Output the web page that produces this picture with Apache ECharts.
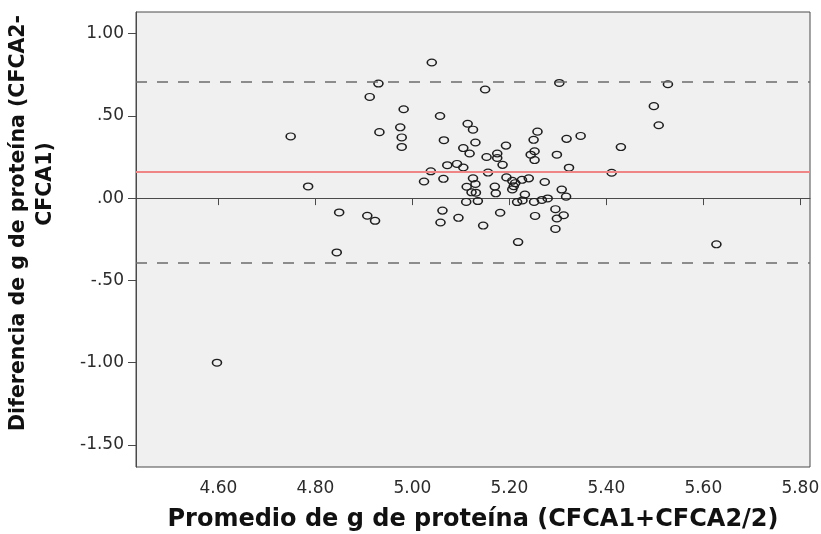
<!DOCTYPE html>
<html>
<head>
<meta charset="utf-8">
<script src="https://cdn.jsdelivr.net/npm/echarts@6/dist/echarts.min.js"></script>
<style>
html,body{margin:0;padding:0;background:#ffffff;}
#chart{width:821px;height:534px;}
</style>
</head>
<body>
<div id="chart"></div>
<script>
// Bland-Altman data: x = mean of the two measures, y = difference
const meanValues = [
  4.597, 4.749, 4.785, 4.849, 4.844, 4.907, 4.923, 4.932, 4.912, 4.930,
  4.975, 4.978, 4.978, 4.982, 5.040, 5.057, 5.065, 5.038, 5.024, 5.064,
  5.072, 5.092, 5.062, 5.058, 5.095, 5.150, 5.114, 5.125, 5.130, 5.105,
  5.118, 5.105, 5.153, 5.175, 5.175, 5.186, 5.193, 5.156, 5.125, 5.130,
  5.112, 5.122, 5.131, 5.111, 5.135, 5.146, 5.181, 5.170, 5.172, 5.194,
  5.206, 5.212, 5.209, 5.206, 5.226, 5.240, 5.273, 5.232, 5.227, 5.216,
  5.251, 5.267, 5.279, 5.308, 5.317, 5.253, 5.295, 5.312, 5.298, 5.295,
  5.218, 5.258, 5.250, 5.252, 5.244, 5.252, 5.298, 5.318, 5.323, 5.347,
  5.303, 5.411, 5.430, 5.498, 5.508, 5.527, 5.627
];
const diffValues = [
  -1.000, 0.375, 0.071, -0.087, -0.330, -0.107, -0.138, 0.401, 0.615, 0.696,
  0.430, 0.369, 0.311, 0.540, 0.824, 0.499, 0.352, 0.163, 0.101, 0.117,
  0.200, 0.208, -0.076, -0.148, -0.120, 0.660, 0.452, 0.416, 0.338, 0.304,
  0.271, 0.186, 0.250, 0.271, 0.244, 0.202, 0.319, 0.155, 0.120, 0.086,
  0.069, 0.035, 0.033, -0.023, -0.018, -0.167, -0.089, 0.070, 0.029, 0.126,
  0.105, 0.091, 0.072, 0.053, 0.111, 0.120, 0.098, 0.022, -0.014, -0.024,
  -0.023, -0.011, -0.002, 0.052, 0.009, -0.108, -0.067, -0.104, -0.124, -0.187,
  -0.267, 0.404, 0.354, 0.285, 0.264, 0.231, 0.264, 0.360, 0.185, 0.378,
  0.700, 0.154, 0.310, 0.559, 0.443, 0.692, -0.281
];
const meanDiff = 0.162;
const upperLimit = 0.713;
const lowerLimit = -0.385;
const xTicks = [4.6, 4.8, 5.0, 5.2, 5.4, 5.6, 5.8];
const yTicks = [-1.5, -1.0, -0.5, 0, 0.5, 1.0];
const xTitle = 'Promedio de g de proteína (CFCA1+CFCA2/2)';
const yTitleLine1 = 'Diferencia de g de proteína (CFCA2-';
const yTitleLine2 = 'CFCA1)';

const points = meanValues.map((m, i) => [m, diffValues[i]]);

function fmtY(v) {
  let s = Math.abs(v).toFixed(2);
  if (s.startsWith('0')) s = s.slice(1);
  return (v < 0 ? '-' : '') + s;
}

const chart = echarts.init(document.getElementById('chart'), null, {renderer: 'canvas'});
const tickFont = {fontFamily: 'DejaVu Sans', fontSize: 17, color: '#2b2b2b'};
const yTitleFont = 'bold 20.5px "DejaVu Sans"';

chart.setOption({
  animation: false,
  backgroundColor: '#ffffff',
  grid: {
    left: 136, right: 11, top: 12, bottom: 67,
    outerBoundsMode: 'none', containLabel: false,
    show: true, backgroundColor: '#f0f0f0', borderColor: '#4a4a4a', borderWidth: 1
  },
  graphic: [
    {type: 'text', x: 19, y: 223, rotation: Math.PI / 2, silent: true,
     style: {text: yTitleLine1, font: yTitleFont, fill: '#111', align: 'center', verticalAlign: 'middle'}},
    {type: 'text', x: 46, y: 184, rotation: Math.PI / 2, silent: true,
     style: {text: yTitleLine2, font: yTitleFont, fill: '#111', align: 'center', verticalAlign: 'middle'}}
  ],
  xAxis: {
    type: 'value', min: 4.43, max: 5.82,
    name: xTitle, nameLocation: 'middle', nameGap: 41,
    nameTextStyle: {fontFamily: 'DejaVu Sans', fontWeight: 'bold', fontSize: 24, color: '#111'},
    axisLine: {show: true, lineStyle: {color: '#4a4a4a', width: 1}},
    axisTick: {show: true, length: 7, customValues: xTicks, lineStyle: {color: '#4a4a4a'}},
    axisLabel: Object.assign({customValues: xTicks, margin: 13, formatter: v => v.toFixed(2)}, tickFont),
    splitLine: {show: false}
  },
  yAxis: {
    type: 'value', min: -1.634, max: 1.131,
    axisLine: {show: true, lineStyle: {color: '#4a4a4a', width: 1}},
    axisTick: {show: true, length: 8, customValues: yTicks, lineStyle: {color: '#4a4a4a'}},
    axisLabel: Object.assign({customValues: yTicks, margin: 12, formatter: v => fmtY(v)}, tickFont),
    splitLine: {show: false}
  },
  series: [{
    type: 'scatter',
    data: points,
    symbol: 'path://M0,5A5,5 0 1,0 10,5A5,5 0 1,0 0,5Z',
    symbolSize: [9, 6.8],
    itemStyle: {color: 'rgba(0,0,0,0)', borderColor: '#1e1e1e', borderWidth: 1.4, opacity: 1},
    emphasis: {disabled: true},
    markLine: {
      silent: true,
      symbol: ['none', 'none'],
      label: {show: false},
      data: [
        {yAxis: meanDiff, lineStyle: {color: '#f08585', width: 2, type: 'solid'}},
        {yAxis: upperLimit, lineStyle: {color: '#6b6b6b', width: 1.6, type: [11, 10]}},
        {yAxis: lowerLimit, lineStyle: {color: '#6b6b6b', width: 1.6, type: [11, 10]}}
      ]
    }
  }]
});
</script>
</body>
</html>
